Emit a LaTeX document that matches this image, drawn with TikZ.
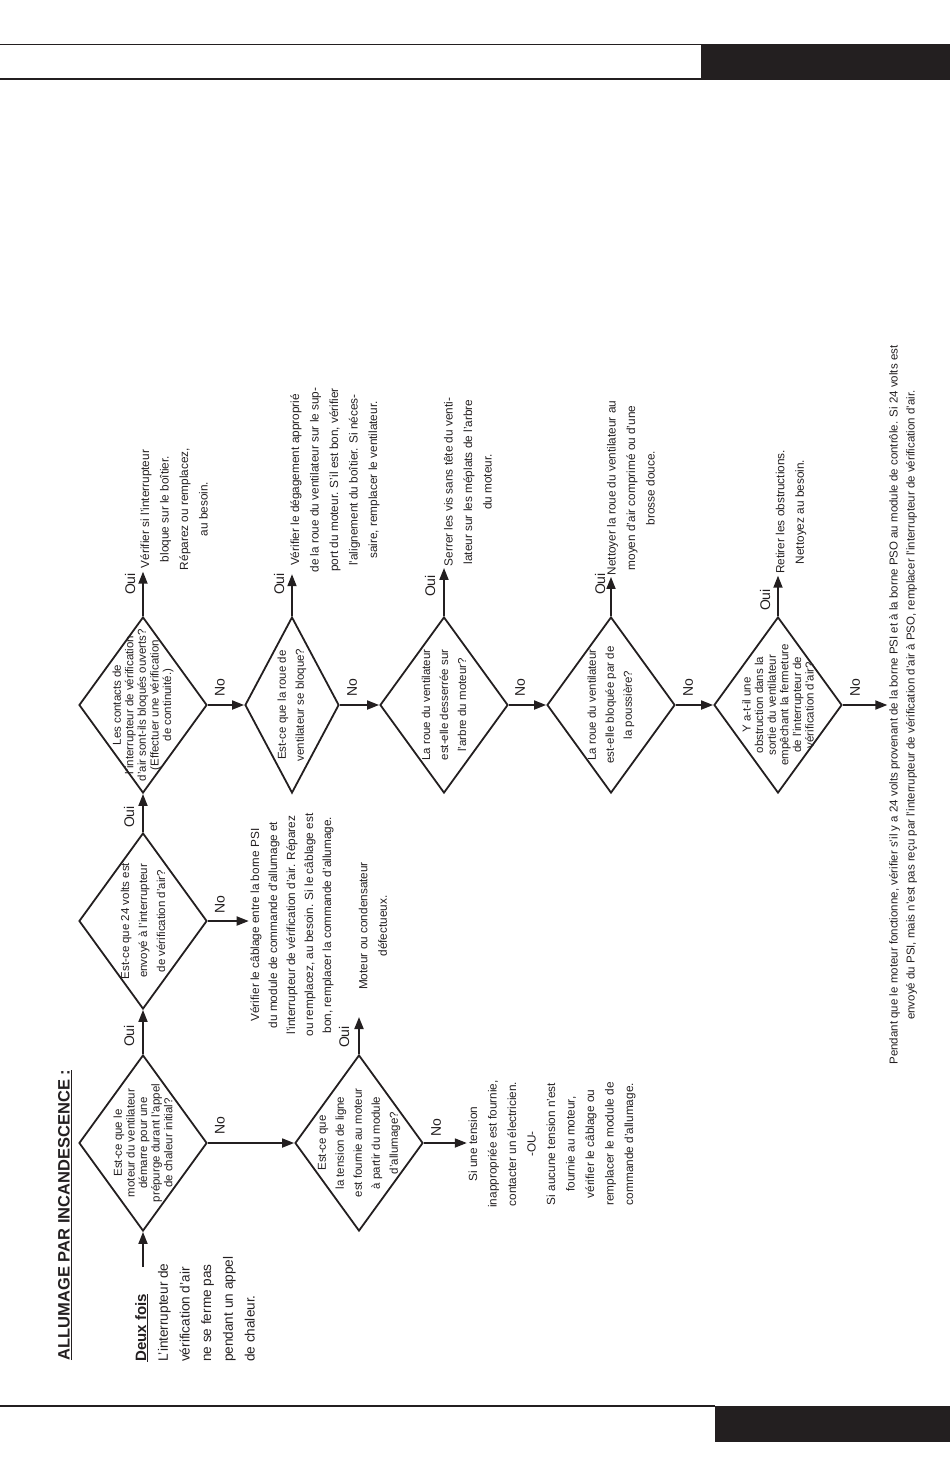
\documentclass[tikz,border=0pt]{standalone}
\usepackage{fontspec}
\setmainfont{Liberation Sans}
\usetikzlibrary{shapes.geometric, arrows.meta, calc}

\definecolor{ink}{HTML}{231F20}

\tikzset{
	decision/.style={draw=ink, shape=diamond, rotate=90, line width=1.8pt, aspect=1.375,
		minimum width=176pt, minimum height=128pt, inner xsep=-20pt, inner ysep=-14pt,
		align=center, text=ink, font=\fontsize{11.5}{12.6}\selectfont},
	loose/.style={font=\fontsize{11.5}{18}\selectfont},
	answer/.style={rotate=90, align=center, inner sep=1.5pt, text=ink,
		font=\fontsize{11.8}{19.5}\selectfont},
	flow/.style={draw=ink, line width=1.8pt, -{Triangle[length=12pt,width=9pt]}},
	tag/.style={rotate=90, inner sep=0pt, text=ink, font=\fontsize{14}{14}\selectfont}
}

\begin{document}
\begin{tikzpicture}[x=1pt, y=-1pt]
	\useasboundingbox (0,0) rectangle (950,1468);
	
	% header and footer bars
	\draw[ink, line width=1.2pt] (0,44.5) -- (701,44.5) (0,79) -- (701,79);
	\fill[ink] (701,44) rectangle (950,79.5);
	\draw[ink, line width=1.2pt] (0,1406) -- (715,1406);
	\fill[ink] (715,1405.5) rectangle (950,1442);
	
	% title and case
	\node[rotate=90, text=ink, inner sep=0pt, font=\bfseries\fontsize{16.5}{18}\selectfont] (ttl) at (65,1215) {\underline{ALLUMAGE PAR INCANDESCENCE :}};
	\node[rotate=90, anchor=west, align=left, inner sep=0pt, text=ink, font=\fontsize{13.6}{21.7}\selectfont] (cas) at (195,1362)
		{{\bfseries\fontsize{15}{21.7}\selectfont\underline{Deux fois}}\\L'interrupteur de\\vérification d'air\\ne se ferme pas\\pendant un appel\\de chaleur.};
	\coordinate (start) at (143,1267);
	
	% questions
	\node[decision] (d1) at (143,1143) {Est-ce que le\\moteur du ventilateur\\démarre pour une\\prépurge durant l'appel\\de chaleur initial?};
	\node[decision, loose] (d2) at (143,921) {Est-ce que 24 volts est\\envoyé à l'interrupteur\\de vérification d'air?};
	\node[decision, loose] (d3) at (359,1143) {Est-ce que\\la tension de ligne\\est fournie au moteur\\à partir du module\\d'allumage?};
	\node[decision] (d4) at (143,705) {Les contacts de\\l'interrupteur de vérification\\d'air sont-ils bloqués ouverts?\\(Effectuer une vérification\\de continuité.)};
	\node[decision, loose, minimum height=94pt] (d5) at (292,705) {Est-ce que la roue de\\ventilateur se bloque?};
	\node[decision, loose] (d6) at (444,705) {La roue du ventilateur\\est-elle desserrée sur\\l'arbre du moteur?};
	\node[decision, loose] (d7) at (611,705) {La roue du ventilateur\\est-elle bloquée par de\\la poussière?};
	\node[decision] (d8) at (778,705) {Y a-t-il une\\obstruction dans la\\sortie du ventilateur\\empêchant la fermeture\\de l'interrupteur de\\vérification d'air?};
	
	% actions
	\node[answer] (t1) at (174,509) {Vérifier si l'interrupteur\\bloque sur le boîtier.\\Réparez ou remplacez,\\au besoin.};
	\node[answer] (t2) at (335,480) {Vérifier le dégagement approprié\\de la roue du ventilateur sur le sup-\\port du moteur. S'il est bon, vérifier\\l'alignement du boîtier. Si néces-\\saire, remplacer le ventilateur.};
	\node[answer] (t3) at (468,482) {Serrer les vis sans tête du venti-\\lateur sur les méplats de l'arbre\\du moteur.};
	\node[answer] (t4) at (631,488) {Nettoyer la roue du ventilateur au\\moyen d'air comprimé ou d'une\\brosse douce.};
	\node[answer] (t5) at (791,512) {Retirer les obstructions.\\Nettoyez au besoin.};
	\node[answer, font=\fontsize{11.8}{18}\selectfont] (t6) at (292,925) {Vérifier le câblage entre la borne PSI\\du module de commande d'allumage et\\l'interrupteur de vérification d'air. Réparez\\ou remplacez, au besoin. Si le câblage est\\bon, remplacer la commande d'allumage.};
	\node[answer] (t7) at (373,926) {Moteur ou condensateur\\défectueux.};
	\node[answer] (t8) at (552,1144) {Si une tension\\inappropriée est fournie,\\contacter un électricien.\\-OU-\\Si aucune tension n'est\\fournie au moteur,\\vérifier le câblage ou\\remplacer le module de\\commande d'allumage.};
	\node[answer, font=\fontsize{11.5}{17}\selectfont] (t9) at (903,705) {Pendant que le moteur fonctionne, vérifier s'il y a 24 volts provenant de la borne PSI et à la borne PSO au module de contrôle. Si 24 volts est\\envoyé du PSI, mais n'est pas reçu par l'interrupteur de vérification d'air à PSO, remplacer l'interrupteur de vérification d'air.};
	\coordinate (mdtip) at (359,1017);
	
	% connectors
	\draw[flow] (start) -- (d1.west);
	\draw[flow] (d1.east) -- (d2.west);
	\draw[flow] (d2.east) -- (d4.west);
	\draw[flow] (d1.south) -- (d3.north);
	\draw[flow] (d2.south) -- (d2.south -| t6.north);
	\draw[flow] (d3.east) -- (mdtip);
	\draw[flow] (d3.south) -- (d3.south -| t8.north);
	\draw[flow] (d4.east) -- (d4.east |- t1.west);
	\draw[flow] (d4.south) -- (d5.north);
	\draw[flow] (d5.east) -- (d5.east |- t2.west);
	\draw[flow] (d5.south) -- (d6.north);
	\draw[flow] (d6.east) -- (d6.east |- t3.west);
	\draw[flow] (d6.south) -- (d7.north);
	\draw[flow] (d7.east) -- (d7.east |- t4.west);
	\draw[flow] (d7.south) -- (d8.north);
	\draw[flow] (d8.east) -- (d8.east |- t5.west);
	\draw[flow] (d8.south) -- (d8.south -| t9.north);
	
	% answer tags
	\foreach \nm/\px/\py in {oa/129/1036, ob/129/817, oc/130/584, od/279/584, oe/430/586, of/600/584, og/765/600, oh/344/1037}
		\node[tag] (\nm) at (\px,\py) {Oui};
	\foreach \nm/\px/\py in {na/220/1126, nb/220/905, nc/220/688, nd/352/688, ne/520/688, nf/688/688, ng/855/688, nh/436/1128}
		\node[tag] (\nm) at (\px,\py) {No};
\end{tikzpicture}
\end{document}
